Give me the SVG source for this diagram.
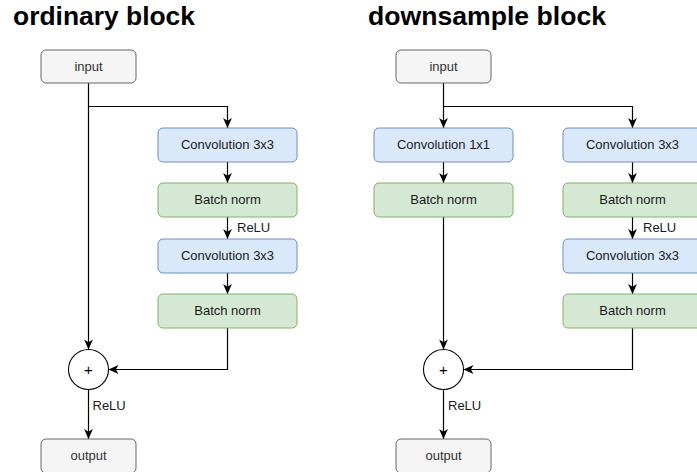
<svg xmlns="http://www.w3.org/2000/svg" width="697" height="472" viewBox="0 0 697 472">
  <style>
    .title { font-family: "Liberation Sans", Arial, sans-serif; font-weight: bold; font-size: 26px; fill: #000; }
    .lbl { font-family: "Liberation Sans", Arial, sans-serif; font-size: 13px; fill: #1a1a1a; text-anchor: middle; }
    .io .lbl { fill: #333333; }
    .edge-lbl { font-family: "Liberation Sans", Arial, sans-serif; font-size: 13px; fill: #1a1a1a; }
    .io rect { fill: #f5f5f5; stroke: #666666; stroke-width: 1; }
    .conv rect { fill: #dae8fc; stroke: #6c8ebf; stroke-width: 1; }
    .bn rect { fill: #d5e8d4; stroke: #82b366; stroke-width: 1; }
    .sum circle { fill: #ffffff; stroke: #000000; stroke-width: 1.1; }
    .sum text { font-family: "Liberation Sans", Arial, sans-serif; font-size: 15px; fill: #000; text-anchor: middle; }
    #connectors path { fill: none; stroke: #000000; stroke-width: 1.2; }
    #connectors path.arr { marker-end: url(#arrow); }
  </style>
  <defs>
    <marker id="arrow" markerUnits="userSpaceOnUse" markerWidth="11" markerHeight="10" viewBox="0 0 11 10" refX="10.5" refY="5" orient="auto">
      <path d="M0.5,0.6 L10.5,5 L0.5,9.4 L3.2,5 Z" fill="#000000" stroke="none"/>
    </marker>
  </defs>

  <rect width="697" height="472" fill="#ffffff"/>

  <text class="title" x="13" y="25" textLength="182" lengthAdjust="spacingAndGlyphs">ordinary block</text>
  <text class="title" x="368" y="25" textLength="238" lengthAdjust="spacingAndGlyphs">downsample block</text>

  <!-- edges -->
  <g id="connectors">
    <!-- ordinary block -->
    <path class="arr" d="M88.5,83 V349.5"/>
    <path class="arr" d="M88.5,106.5 H227.5 V128"/>
    <path class="arr" d="M227.5,162 V183"/>
    <path class="arr" d="M227.5,217 V239"/>
    <path class="arr" d="M227.5,273 V294"/>
    <path class="arr" d="M227.5,328 V369.5 H108.5"/>
    <path class="arr" d="M88.5,389.5 V439"/>
    <!-- downsample block -->
    <path class="arr" d="M443.5,83 V128"/>
    <path class="arr" d="M443.5,106.5 H632.5 V128"/>
    <path class="arr" d="M443.5,162 V183"/>
    <path class="arr" d="M443.5,217 V349.5"/>
    <path class="arr" d="M632.5,162 V183"/>
    <path class="arr" d="M632.5,217 V239"/>
    <path class="arr" d="M632.5,273 V294"/>
    <path class="arr" d="M632.5,328 V369.5 H463.5"/>
    <path class="arr" d="M443.5,389.5 V439"/>
  </g>

  <!-- edge labels -->
  <text class="edge-lbl" x="237" y="232">ReLU</text>
  <text class="edge-lbl" x="92.5" y="410">ReLU</text>
  <text class="edge-lbl" x="643" y="232">ReLU</text>
  <text class="edge-lbl" x="448" y="410">ReLU</text>

  <!-- ordinary block nodes -->
  <g id="ord-input" class="io">
    <rect x="41" y="50" width="95" height="33" rx="5"/>
    <text class="lbl" x="88.5" y="71">input</text>
  </g>
  <g id="ord-conv1" class="conv">
    <rect x="158" y="128" width="139" height="34" rx="5"/>
    <text class="lbl" x="227.5" y="148.5">Convolution 3x3</text>
  </g>
  <g id="ord-bn1" class="bn">
    <rect x="158" y="183" width="139" height="34" rx="5"/>
    <text class="lbl" x="227.5" y="203.5">Batch norm</text>
  </g>
  <g id="ord-conv2" class="conv">
    <rect x="158" y="239" width="139" height="34" rx="5"/>
    <text class="lbl" x="227.5" y="259.5">Convolution 3x3</text>
  </g>
  <g id="ord-bn2" class="bn">
    <rect x="158" y="294" width="139" height="34" rx="5"/>
    <text class="lbl" x="227.5" y="314.5">Batch norm</text>
  </g>
  <g id="ord-sum" class="sum">
    <circle cx="88.5" cy="369.5" r="20"/>
    <text x="88.5" y="374.5">+</text>
  </g>
  <g id="ord-output" class="io">
    <rect x="41" y="439" width="95" height="34" rx="5"/>
    <text class="lbl" x="88.5" y="460">output</text>
  </g>

  <!-- downsample block nodes -->
  <g id="ds-input" class="io">
    <rect x="396" y="50" width="95" height="33" rx="5"/>
    <text class="lbl" x="443.5" y="71">input</text>
  </g>
  <g id="ds-conv1x1" class="conv">
    <rect x="374" y="128" width="139" height="34" rx="5"/>
    <text class="lbl" x="443.5" y="148.5">Convolution 1x1</text>
  </g>
  <g id="ds-bn-short" class="bn">
    <rect x="374" y="183" width="139" height="34" rx="5"/>
    <text class="lbl" x="443.5" y="203.5">Batch norm</text>
  </g>
  <g id="ds-conv1" class="conv">
    <rect x="563" y="128" width="139" height="34" rx="5"/>
    <text class="lbl" x="632.5" y="148.5">Convolution 3x3</text>
  </g>
  <g id="ds-bn1" class="bn">
    <rect x="563" y="183" width="139" height="34" rx="5"/>
    <text class="lbl" x="632.5" y="203.5">Batch norm</text>
  </g>
  <g id="ds-conv2" class="conv">
    <rect x="563" y="239" width="139" height="34" rx="5"/>
    <text class="lbl" x="632.5" y="259.5">Convolution 3x3</text>
  </g>
  <g id="ds-bn2" class="bn">
    <rect x="563" y="294" width="139" height="34" rx="5"/>
    <text class="lbl" x="632.5" y="314.5">Batch norm</text>
  </g>
  <g id="ds-sum" class="sum">
    <circle cx="443.5" cy="369.5" r="20"/>
    <text x="443.5" y="374.5">+</text>
  </g>
  <g id="ds-output" class="io">
    <rect x="396" y="439" width="95" height="34" rx="5"/>
    <text class="lbl" x="443.5" y="460">output</text>
  </g>
</svg>
